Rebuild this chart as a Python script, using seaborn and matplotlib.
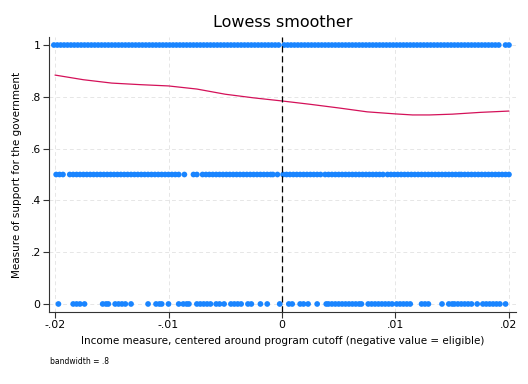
import matplotlib
matplotlib.use("Agg")
import matplotlib.pyplot as plt
import seaborn as sns
import pandas as pd

# ---- data ----
x_support_1 = [
    -0.0201, -0.0198, -0.0195, -0.0192, -0.0189, -0.0186, -0.0183, -0.0180, -0.0177, -0.0174,
    -0.0171, -0.0168, -0.0165, -0.0162, -0.0159, -0.0156, -0.0153, -0.0150, -0.0147, -0.0144,
    -0.0141, -0.0138, -0.0135, -0.0132, -0.0129, -0.0126, -0.0123, -0.0120, -0.0117, -0.0114,
    -0.0111, -0.0108, -0.0105, -0.0102, -0.0099, -0.0096, -0.0093, -0.0090, -0.0087, -0.0084,
    -0.0081, -0.0078, -0.0075, -0.0072, -0.0069, -0.0066, -0.0063, -0.0060, -0.0057, -0.0054,
    -0.0051, -0.0048, -0.0045, -0.0042, -0.0039, -0.0036, -0.0033, -0.0030, -0.0027, -0.0024,
    -0.0021, -0.0018, -0.0015, -0.0012, -0.0009, -0.0006, -0.0003,
    0.0002, 0.0005, 0.0008, 0.0011, 0.0014, 0.0017, 0.0020, 0.0023, 0.0026, 0.0029,
    0.0032, 0.0035, 0.0038, 0.0041, 0.0044, 0.0047, 0.0050, 0.0053, 0.0056, 0.0059,
    0.0062, 0.0065, 0.0068, 0.0071, 0.0074, 0.0077, 0.0080, 0.0083, 0.0086, 0.0089,
    0.0092, 0.0095, 0.0098, 0.0101, 0.0104, 0.0107, 0.0110, 0.0113, 0.0116, 0.0119,
    0.0122, 0.0125, 0.0128, 0.0131, 0.0134, 0.0137, 0.0140, 0.0143, 0.0146, 0.0149,
    0.0152, 0.0155, 0.0158, 0.0161, 0.0164, 0.0167, 0.0170, 0.0173, 0.0176, 0.0179,
    0.0182, 0.0185, 0.0188, 0.0191, 0.0197, 0.0200,
]

x_support_half = [
    -0.0199, -0.0196, -0.0193,
    -0.0187, -0.0184, -0.0181, -0.0178, -0.0175, -0.0172, -0.0169, -0.0166, -0.0163, -0.0160,
    -0.0157, -0.0154, -0.0151, -0.0148, -0.0145, -0.0142, -0.0139, -0.0136, -0.0133, -0.0130,
    -0.0127, -0.0124, -0.0121, -0.0118, -0.0115, -0.0112, -0.0109, -0.0106, -0.0103, -0.0100,
    -0.0097, -0.0094, -0.0091,
    -0.0086,
    -0.0078, -0.0075,
    -0.0070, -0.0067, -0.0064, -0.0061, -0.0058, -0.0055, -0.0052, -0.0049, -0.0046, -0.0043,
    -0.0040, -0.0037, -0.0034, -0.0031, -0.0028, -0.0025, -0.0022, -0.0019, -0.0016, -0.0013,
    -0.0010, -0.0008,
    -0.0004,
    0.0001, 0.0004, 0.0007, 0.0010, 0.0013, 0.0016, 0.0019, 0.0022, 0.0025, 0.0028, 0.0031, 0.0034,
    0.0038, 0.0041, 0.0044, 0.0047, 0.0050, 0.0053, 0.0056, 0.0059, 0.0062, 0.0065, 0.0068,
    0.0071, 0.0074, 0.0077, 0.0080, 0.0083, 0.0086, 0.0089,
    0.0093, 0.0096, 0.0099, 0.0102, 0.0105, 0.0108, 0.0111, 0.0114, 0.0117, 0.0120, 0.0123,
    0.0126, 0.0129, 0.0132, 0.0135, 0.0138, 0.0141, 0.0144, 0.0147, 0.0150, 0.0153, 0.0156, 0.0158,
    0.0161, 0.0164, 0.0167, 0.0170, 0.0173, 0.0176, 0.0179, 0.0182, 0.0185, 0.0188, 0.0191,
    0.0194, 0.0197, 0.0200,
]

x_support_0 = [
    -0.0197, -0.0184, -0.0181, -0.0178, -0.0174, -0.0158, -0.0155, -0.0153, -0.0147, -0.0144,
    -0.0141, -0.0138, -0.0133, -0.0118, -0.0111, -0.0108, -0.0106, -0.0100, -0.0091, -0.0087,
    -0.0084, -0.0082, -0.0075, -0.0072, -0.0069, -0.0066, -0.0063, -0.0058, -0.0055, -0.0051,
    -0.0045, -0.0042, -0.0039, -0.0036, -0.0030, -0.0027, -0.0019, -0.0013, -0.0002,
    0.0006, 0.0009, 0.0016, 0.0019, 0.0023, 0.0031, 0.0039, 0.0041, 0.0044, 0.0047, 0.0050,
    0.0053, 0.0056, 0.0059, 0.0062, 0.0065, 0.0068, 0.0070, 0.0076, 0.0079, 0.0082, 0.0085,
    0.0088, 0.0091, 0.0094, 0.0097, 0.0101, 0.0104, 0.0107, 0.0110, 0.0113, 0.0123, 0.0126,
    0.0129, 0.0141, 0.0147, 0.0150, 0.0152, 0.0155, 0.0158, 0.0161, 0.0164, 0.0167, 0.0172,
    0.0177, 0.0180, 0.0183, 0.0186, 0.0189, 0.0192, 0.0197,
]

lowess_x = [-0.0200, -0.0175, -0.0150, -0.0125, -0.0100, -0.0075, -0.0050, -0.0025, 0.0000,
            0.0025, 0.0050, 0.0075, 0.0100, 0.0115, 0.0130, 0.0150, 0.0175, 0.0200]
lowess_y = [0.884, 0.866, 0.853, 0.847, 0.842, 0.830, 0.810, 0.796, 0.784,
            0.771, 0.757, 0.742, 0.734, 0.730, 0.730, 0.733, 0.740, 0.745]

x_ticks = [-0.02, -0.01, 0.0, 0.01, 0.02]
x_tick_labels = ["-.02", "-.01", "0", ".01", ".02"]
y_ticks = [0, 0.2, 0.4, 0.6, 0.8, 1.0]
y_tick_labels = ["0", ".2", ".4", ".6", ".8", "1"]

# ---- build frames ----
pts = pd.DataFrame({
    "x": x_support_0 + x_support_half + x_support_1,
    "y": [0.0] * len(x_support_0) + [0.5] * len(x_support_half) + [1.0] * len(x_support_1),
})
curve = pd.DataFrame({"x": lowess_x, "y": lowess_y})

sns.set_theme(style="white")
plt.rcParams["font.family"] = ["DejaVu Sans"]
plt.rcParams["text.color"] = "black"
plt.rcParams["axes.labelcolor"] = "black"
plt.rcParams["xtick.color"] = "black"
plt.rcParams["ytick.color"] = "black"

fig = plt.figure(figsize=(5.28, 3.84), dpi=100)
ax = fig.add_axes([49 / 528, 1 - 312 / 384, (516 - 49) / 528, (312 - 37) / 384])

grid_kw = dict(color="#e6e6e6", lw=0.7, ls=(0, (4, 3)), zorder=0)
for yt in y_ticks:
    ax.axhline(yt, **grid_kw)
for xt in x_ticks:
    ax.axvline(xt, **grid_kw)

sns.scatterplot(data=pts, x="x", y="y", ax=ax, color="#1a85ff", s=17,
                edgecolor="none", linewidth=0, zorder=3)
sns.lineplot(data=curve, x="x", y="y", ax=ax, color="#d41159", lw=0.9, zorder=4)
ax.axvline(0, color="black", lw=0.9, ls=(0, (5, 3)), zorder=5)

ax.set_xlim(-0.02053, 0.02062)
ax.set_ylim(-0.031, 1.031)
ax.set_xticks(x_ticks)
ax.set_xticklabels(x_tick_labels)
ax.set_yticks(y_ticks)
ax.set_yticklabels(y_tick_labels)
ax.tick_params(axis="both", which="both", direction="out", length=4, width=0.8,
               color="#333333", labelcolor="black", labelsize=7.8, pad=2,
               left=True, bottom=True)

for side in ["top", "right"]:
    ax.spines[side].set_visible(False)
for side in ["left", "bottom"]:
    ax.spines[side].set_color("#333333")
    ax.spines[side].set_linewidth(0.8)

ax.set_xlabel("Income measure, centered around program cutoff (negative value = eligible)",
              fontsize=7.5, labelpad=4, color="black")
ax.set_ylabel("Measure of support for the government", fontsize=7.5, labelpad=6, color="black")
ax.set_title("Lowess smoother", fontsize=11.5, pad=7, color="black")

fig.text(50 / 528, 1 - 361 / 384, "bandwidth = .8", fontsize=5.5, va="center", ha="left",
         color="black")

fig.savefig("out.png", dpi=100)
